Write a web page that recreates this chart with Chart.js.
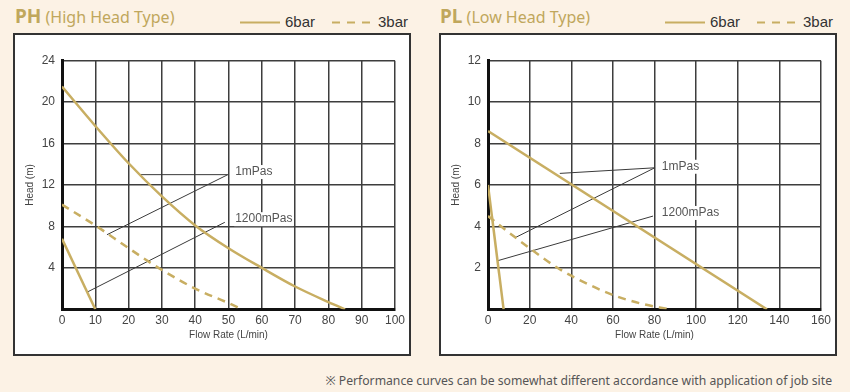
<!DOCTYPE html>
<html>
<head>
<meta charset="utf-8">
<script src="https://cdn.jsdelivr.net/npm/chart.js@4.4.1/dist/chart.umd.min.js"></script>
<style>
  body { margin: 0; width: 850px; height: 392px; background: #fcf2e5; position: relative; overflow: hidden; font-family: "Liberation Sans", Arial, sans-serif; }
  .box { position: absolute; top: 33px; width: 394px; height: 319px; background: #fff; border: 2px solid #333; }
  canvas { position: absolute; top: 33px; }
  .title { position: absolute; top: 4px; font-family: "Noto Sans", sans-serif; color: #c0a75c; font-size: 16px; line-height: 24px; white-space: nowrap; }
  .title b { font-size: 19px; }
  .lg { position: absolute; top: 14px; font-size: 15px; line-height: 16px; color: #333; }
  .lgline { position: absolute; top: 20px; }
  .note { position: absolute; right: 18px; top: 372px; font-family: "Noto Sans", sans-serif; font-size: 12.2px; line-height: 18px; color: #555; white-space: nowrap; }
</style>
</head>
<body>
<div class="title" style="left:15px"><b>PH</b> (High Head Type)</div>
<svg class="lgline" style="left:240px" width="40" height="5"><line x1="0" y1="2.5" x2="40" y2="2.5" stroke="#c8ae62" stroke-width="2"/></svg>
<div class="lg" style="left:285px">6bar</div>
<svg class="lgline" style="left:332px" width="40" height="5"><line x1="0" y1="2.5" x2="40" y2="2.5" stroke="#c8ae62" stroke-width="2" stroke-dasharray="8 7"/></svg>
<div class="lg" style="left:378px">3bar</div>

<div class="title" style="left:440px"><b>PL</b> (Low Head Type)</div>
<svg class="lgline" style="left:665px" width="40" height="5"><line x1="0" y1="2.5" x2="40" y2="2.5" stroke="#c8ae62" stroke-width="2"/></svg>
<div class="lg" style="left:710px">6bar</div>
<svg class="lgline" style="left:757px" width="40" height="5"><line x1="0" y1="2.5" x2="40" y2="2.5" stroke="#c8ae62" stroke-width="2" stroke-dasharray="8 7"/></svg>
<div class="lg" style="left:803px">3bar</div>

<div class="box" style="left:13px"></div>
<div class="box" style="left:439px"></div>
<canvas id="phChart" width="398" height="323" style="left:13px"></canvas>
<canvas id="plChart" width="398" height="323" style="left:439px"></canvas>

<div class="note">※ Performance curves can be somewhat different accordance with application of job site</div>

<script>
// PH (High Head Type)
const phFlow6 = [0, 10, 20, 30, 40, 50, 60, 70, 80, 85];
const phHead6 = [21.5, 17.7, 14.1, 10.9, 8.1, 5.9, 4.0, 2.2, 0.7, 0];
const phFlow3 = [0, 10, 20, 30, 40, 50, 54];
const phHead3 = [10.1, 8.1, 5.9, 3.8, 2.0, 0.6, 0];
const phFlowVisc = [0, 10];
const phHeadVisc = [6.8, 0];
const phXTicks = [0, 10, 20, 30, 40, 50, 60, 70, 80, 90, 100];
const phYTicks = [4, 8, 12, 16, 20, 24];
// leader lines for the viscosity notes
const phLead1mX = [23.4, 49.8, 13.5];
const phLead1mY = [13.0, 13.0, 7.2];
const phLead1200X = [7.8, 48.9];
const phLead1200Y = [1.7, 8.4];
const phNotes = ['1mPas', '1200mPas'];
const phNoteX = [52, 52];
const phNoteY = [13.25, 8.7];

// PL (Low Head Type)
const plFlow6 = [0, 134];
const plHead6 = [8.6, 0];
const plFlow3 = [0, 5, 20, 35, 49, 60, 73, 87];
const plHead3 = [4.5, 4.1, 2.95, 1.9, 1.17, 0.69, 0.29, 0];
const plFlowVisc = [0, 7.5];
const plHeadVisc = [6.0, 0];
const plXTicks = [0, 20, 40, 60, 80, 100, 120, 140, 160];
const plYTicks = [2, 4, 6, 8, 10, 12];
const plLead1mX = [34.5, 80.1, 13.3];
const plLead1mY = [6.56, 6.83, 3.47];
const plLead1200X = [4.8, 79.3];
const plLead1200Y = [2.35, 4.5];
const plNotes = ['1mPas', '1200mPas'];
const plNoteX = [83.5, 83.5];
const plNoteY = [6.88, 4.65];

const GOLD = '#c8ae62';
const GRID = '#3d3d3d';
Chart.defaults.font.family = '"Liberation Sans", Arial, sans-serif';

function pts(xs, ys) {
  return xs.map((x, i) => ({ x: x, y: ys[i] }));
}

// text for 1mPas / 1200mPas, white behind so the grid breaks like the original
const noteLabels = {
  id: 'noteLabels',
  afterDraw(chart, args, opts) {
    const ctx = chart.ctx;
    const xs = chart.scales.x, ys = chart.scales.y;
    ctx.save();
    ctx.font = '12px "Liberation Sans", Arial, sans-serif';
    ctx.textBaseline = 'middle';
    opts.texts.forEach((t, i) => {
      const px = xs.getPixelForValue(opts.xs[i]);
      const py = ys.getPixelForValue(opts.ys[i]);
      const w = ctx.measureText(t).width;
      ctx.fillStyle = '#fff';
      ctx.fillRect(px - 1, py - 7, w + 2, 14);
      ctx.fillStyle = '#555';
      ctx.fillText(t, px, py);
    });
    ctx.restore();
  }
};

function drawPump(id, d) {
  new Chart(document.getElementById(id), {
    type: 'scatter',
    data: {
      datasets: [
        { label: '6bar', data: pts(d.flow6, d.head6), borderColor: GOLD, borderWidth: 2.5, showLine: true, pointRadius: 0, cubicInterpolationMode: 'monotone' },
        { label: '3bar', data: pts(d.flow3, d.head3), borderColor: GOLD, borderWidth: 2.5, borderDash: [8, 6], showLine: true, pointRadius: 0, cubicInterpolationMode: 'monotone' },
        { label: '6bar 1200mPas', data: pts(d.flowVisc, d.headVisc), borderColor: GOLD, borderWidth: 2.5, showLine: true, pointRadius: 0 },
        { label: '1mPas', data: pts(d.lead1mX, d.lead1mY), borderColor: '#3a3a3a', borderWidth: 1, showLine: true, pointRadius: 0 },
        { label: '1200mPas', data: pts(d.lead1200X, d.lead1200Y), borderColor: '#3a3a3a', borderWidth: 1, showLine: true, pointRadius: 0 }
      ]
    },
    options: {
      responsive: false,
      animation: false,
      layout: { padding: { top: 27.7, right: 16, bottom: 0, left: 0 } },
      plugins: {
        legend: { display: false },
        tooltip: { enabled: false },
        noteLabels: { texts: d.notes, xs: d.noteX, ys: d.noteY }
      },
      scales: {
        x: {
          type: 'linear',
          min: d.xTicks[0],
          max: d.xTicks[d.xTicks.length - 1],
          ticks: { stepSize: d.xTicks[1] - d.xTicks[0], padding: 4, color: '#444', font: { size: 12 } },
          grid: { color: GRID, lineWidth: 1.5, drawTicks: false },
          border: { color: '#111', width: 3 },
          title: { display: true, text: 'Flow Rate (L/min)', color: '#444', font: { size: 10 }, padding: { top: 0, bottom: 15 } },
          afterFit: (s) => { s.height = 46.7; }
        },
        y: {
          type: 'linear',
          min: 0,
          max: d.yTicks[d.yTicks.length - 1],
          ticks: {
            stepSize: d.yTicks[1] - d.yTicks[0], padding: 7, color: '#444', font: { size: 12 },
            callback: (v) => d.yTicks.includes(v) ? v : ''
          },
          grid: { color: GRID, lineWidth: 1.5, drawTicks: false },
          border: { color: '#111', width: 3 },
          title: { display: true, text: 'Head (m)', color: '#444', font: { size: 10 }, padding: { top: 11, bottom: 0 } },
          afterFit: (s) => { s.width = 49; }
        }
      }
    },
    plugins: [noteLabels]
  });
}

drawPump('phChart', {
  flow6: phFlow6, head6: phHead6, flow3: phFlow3, head3: phHead3,
  flowVisc: phFlowVisc, headVisc: phHeadVisc,
  lead1mX: phLead1mX, lead1mY: phLead1mY, lead1200X: phLead1200X, lead1200Y: phLead1200Y,
  notes: phNotes, noteX: phNoteX, noteY: phNoteY,
  xTicks: phXTicks, yTicks: phYTicks
});

drawPump('plChart', {
  flow6: plFlow6, head6: plHead6, flow3: plFlow3, head3: plHead3,
  flowVisc: plFlowVisc, headVisc: plHeadVisc,
  lead1mX: plLead1mX, lead1mY: plLead1mY, lead1200X: plLead1200X, lead1200Y: plLead1200Y,
  notes: plNotes, noteX: plNoteX, noteY: plNoteY,
  xTicks: plXTicks, yTicks: plYTicks
});
</script>
</body>
</html>
